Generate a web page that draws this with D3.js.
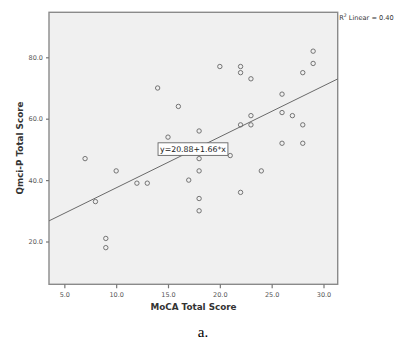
<!DOCTYPE html>
<html>
<head>
<meta charset="utf-8">
<script src="https://cdn.jsdelivr.net/npm/d3@7"></script>
<style>
body { margin: 0; background: #fff; }
.tick text { font-family: "DejaVu Sans", sans-serif; font-size: 6.5px; fill: #555; }
.axislabel { font-family: "DejaVu Sans", sans-serif; font-size: 8.8px; font-weight: bold; fill: #333; }
</style>
</head>
<body>
<div id="chart"></div>
<script>
// MoCA total score vs Qmci-P total score
var mocaScore = [7, 8, 9, 9, 10, 12, 13, 14, 15, 16, 17, 18, 18, 18, 18, 18, 20, 21, 22, 22, 22, 22, 23, 23, 23, 24, 26, 26, 26, 27, 28, 28, 28, 29, 29];
var qmciScore = [47, 33, 21, 18, 43, 39, 39, 70, 54, 64, 40, 56, 47, 43, 34, 30, 77, 48, 77, 75, 58, 36, 73, 61, 58, 43, 68, 62, 52, 61, 75, 58, 52, 82, 78];
var xTicks = [5, 10, 15, 20, 25, 30];
var yTicks = [20, 40, 60, 80];
var fitIntercept = 20.88, fitSlope = 1.66;
var rSquared = "0.40";

var draw = function(){
	var svg = d3.select("#chart").append("svg").attr("width", 396).attr("height", 340);

	var x = d3.scaleLinear().domain([3.52, 31.37]).range([49, 337.7]);
	var y = d3.scaleLinear().domain([6.06, 94.66]).range([284.3, 12.3]);

	// plot background + frame
	svg.append("rect")
		.attr("x", x.range()[0]).attr("y", y.range()[1])
		.attr("width", x.range()[1] - x.range()[0])
		.attr("height", y.range()[0] - y.range()[1])
		.attr("fill", "#f0f0f0").attr("stroke", "#8a8a8a").attr("stroke-width", 1.4);

	var xAxis = d3.axisBottom(x).tickValues(xTicks).tickFormat(d3.format(".1f")).tickSizeInner(4).tickSizeOuter(0);
	var yAxis = d3.axisLeft(y).tickValues(yTicks).tickFormat(d3.format(".1f")).tickSizeInner(3).tickSizeOuter(0);

	var gx = svg.append("g").attr("transform", "translate(0," + y.range()[0] + ")").call(xAxis);
	var gy = svg.append("g").attr("transform", "translate(" + x.range()[0] + ",0)").call(yAxis);
	gx.select(".domain").remove();
	gy.select(".domain").remove();
	svg.selectAll(".tick line").attr("stroke", "#777").attr("stroke-width", 1.2);
	gx.selectAll(".tick text").attr("dy", "0.95em");

	// fit line
	var line = d3.line().x(function(d){ return x(d); }).y(function(d){ return y(fitIntercept + fitSlope * d); });
	svg.append("path").datum(x.domain())
		.attr("fill", "none").attr("stroke", "#6a6a6a").attr("stroke-width", 1)
		.attr("d", line);

	// points
	svg.append("g").selectAll("circle").data(mocaScore).enter()
		.append("circle")
		.attr("cx", function(d){ return x(d); })
		.attr("cy", function(d, i){ return y(qmciScore[i]); })
		.attr("r", 2.2)
		.attr("fill", "none").attr("stroke", "#666").attr("stroke-width", 0.9);

	// equation label
	var lab = svg.append("g").attr("transform", "translate(" + x(17.41) + "," + y(50.1) + ")");
	var labBox = lab.append("rect");
	var labText = lab.append("text")
		.attr("text-anchor", "middle").attr("dy", "0.35em")
		.attr("font-family", "DejaVu Sans, sans-serif").attr("font-size", 7.8).attr("fill", "#222")
		.text("y=" + fitIntercept.toFixed(2) + "+" + fitSlope.toFixed(2) + "*x");
	var w = labText.node().getComputedTextLength() + 4;
	labBox.attr("x", -w / 2).attr("y", -6.3).attr("width", w).attr("height", 12.6)
		.attr("fill", "#fff").attr("stroke", "#666").attr("stroke-width", 0.9);

	// R squared
	var rt = svg.append("text").attr("x", x.range()[1] + 1.5).attr("y", 20)
		.attr("font-family", "DejaVu Sans, sans-serif").attr("font-size", 6.6).attr("fill", "#333");
	rt.append("tspan").text("R");
	rt.append("tspan").attr("font-size", 4.6).attr("dy", -3).text("2");
	rt.append("tspan").attr("dy", 3).text(" Linear = " + rSquared);

	// axis titles
	svg.append("text").attr("class", "axislabel").attr("text-anchor", "middle")
		.attr("transform", "translate(" + 23 + "," + 148 + ") rotate(-90)")
		.text("Qmci-P Total Score");
	svg.append("text").attr("class", "axislabel").attr("text-anchor", "middle")
		.attr("x", 193.5).attr("y", 310)
		.text("MoCA Total Score");

	svg.append("text").attr("text-anchor", "middle")
		.attr("x", 203).attr("y", 337)
		.attr("font-family", "Liberation Serif, serif").attr("font-size", 15).attr("fill", "#000")
		.text("a.");
};

window.onload = function() {
	draw();
};
</script>
</body>
</html>
